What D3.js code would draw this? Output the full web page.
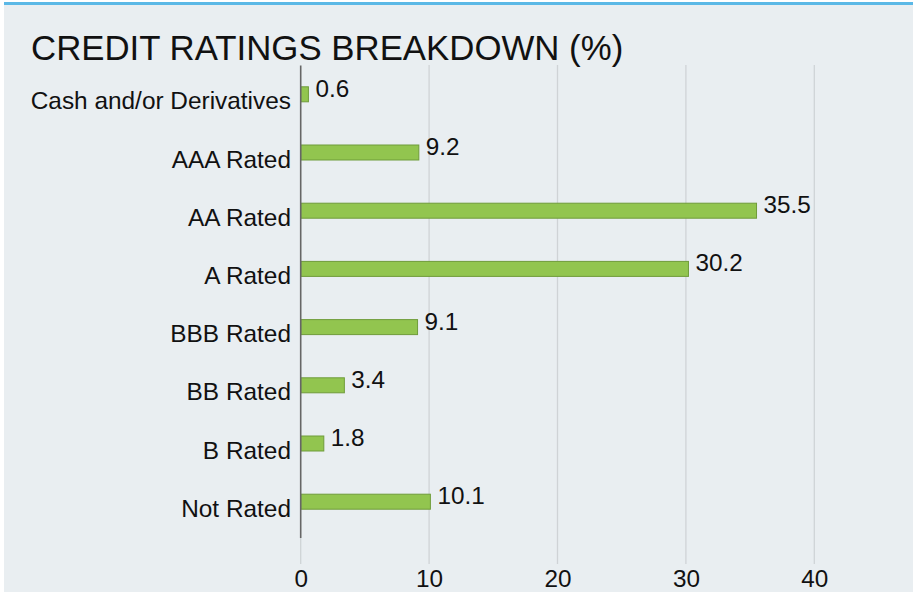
<!DOCTYPE html>
<html>
<head>
<meta charset="utf-8">
<script src="https://cdn.jsdelivr.net/npm/d3@7"></script>
<style>
  body { margin: 0; background: #ffffff; }
  svg { display: block; font-family: "Liberation Sans", Arial, sans-serif; }
</style>
</head>
<body>
<svg id="chart" width="922" height="606"></svg>
<script>
const categories = ["Cash and/or Derivatives", "AAA Rated", "AA Rated", "A Rated", "BBB Rated", "BB Rated", "B Rated", "Not Rated"];
const values = [0.6, 9.2, 35.5, 30.2, 9.1, 3.4, 1.8, 10.1];
const valueLabels = ["0.6", "9.2", "35.5", "30.2", "9.1", "3.4", "1.8", "10.1"];
const tickValues = [0, 10, 20, 30, 40];
const title = "CREDIT RATINGS BREAKDOWN (%)";

const svg = d3.select("#chart");

// panel background
svg.append("rect").attr("x", 4).attr("y", 3).attr("width", 909).attr("height", 589).attr("fill", "#e9eef1");
svg.append("rect").attr("x", 4).attr("y", 2).attr("width", 909).attr("height", 3).attr("fill", "#5bb8e6");

// title
svg.append("text").attr("x", 31).attr("y", 60)
  .attr("font-size", 34.8).attr("fill", "#111").text(title);

const x = d3.scaleLinear().domain([0, 40]).range([300.7, 814.3]);
const y = d3.scaleBand().domain(categories).range([65.2, 530.8]).padding(0);
const barH = 15;

// gridlines
svg.append("g").selectAll("line").data(tickValues.filter(d => d !== 0)).join("line")
  .attr("x1", d => x(d)).attr("x2", d => x(d))
  .attr("y1", 65).attr("y2", 564)
  .attr("stroke", "#cfd3d6").attr("stroke-width", 1.3);

// zero line extension (light)
svg.append("line").attr("x1", x(0)).attr("x2", x(0)).attr("y1", 538).attr("y2", 564)
  .attr("stroke", "#cfd3d6").attr("stroke-width", 1.3);

// x axis tick labels
const xAxis = d3.axisBottom(x).tickValues(tickValues).tickSize(0).tickPadding(0);
const gx = svg.append("g").attr("transform", "translate(0,570)").call(xAxis);
gx.select(".domain").remove();
gx.selectAll("text").attr("font-size", 24.3).attr("fill", "#111")
  .attr("font-family", "Liberation Sans, Arial, sans-serif")
  .attr("dy", "0.71em").attr("y", 0);

// bars
svg.append("g").selectAll("rect").data(categories).join("rect")
  .attr("x", x(0))
  .attr("y", (d) => y(d) + y.bandwidth() / 2 - barH / 2)
  .attr("width", (d, i) => x(values[i]) - x(0))
  .attr("height", barH)
  .attr("fill", "#92c54f")
  .attr("stroke", "#6f9c3a")
  .attr("stroke-width", 1);

// axis line
svg.append("line").attr("x1", x(0)).attr("x2", x(0)).attr("y1", 65.5).attr("y2", 538)
  .attr("stroke", "#666").attr("stroke-width", 1.6);

// category labels
const yAxis = d3.axisLeft(y).tickSize(0).tickPadding(0);
const gy = svg.append("g").attr("transform", "translate(291,0)").call(yAxis);
gy.select(".domain").remove();
gy.selectAll("text").attr("font-size", 24.4).attr("fill", "#111")
  .attr("font-family", "Liberation Sans, Arial, sans-serif")
  .attr("dy", null).attr("y", 15);

// value labels
svg.append("g").selectAll("text").data(categories).join("text")
  .attr("x", (d, i) => x(values[i]) + 7)
  .attr("y", d => y(d) + y.bandwidth() / 2 + 2.5)
  .attr("font-size", 24.3).attr("fill", "#111")
  .text((d, i) => valueLabels[i]);
</script>
</body>
</html>
